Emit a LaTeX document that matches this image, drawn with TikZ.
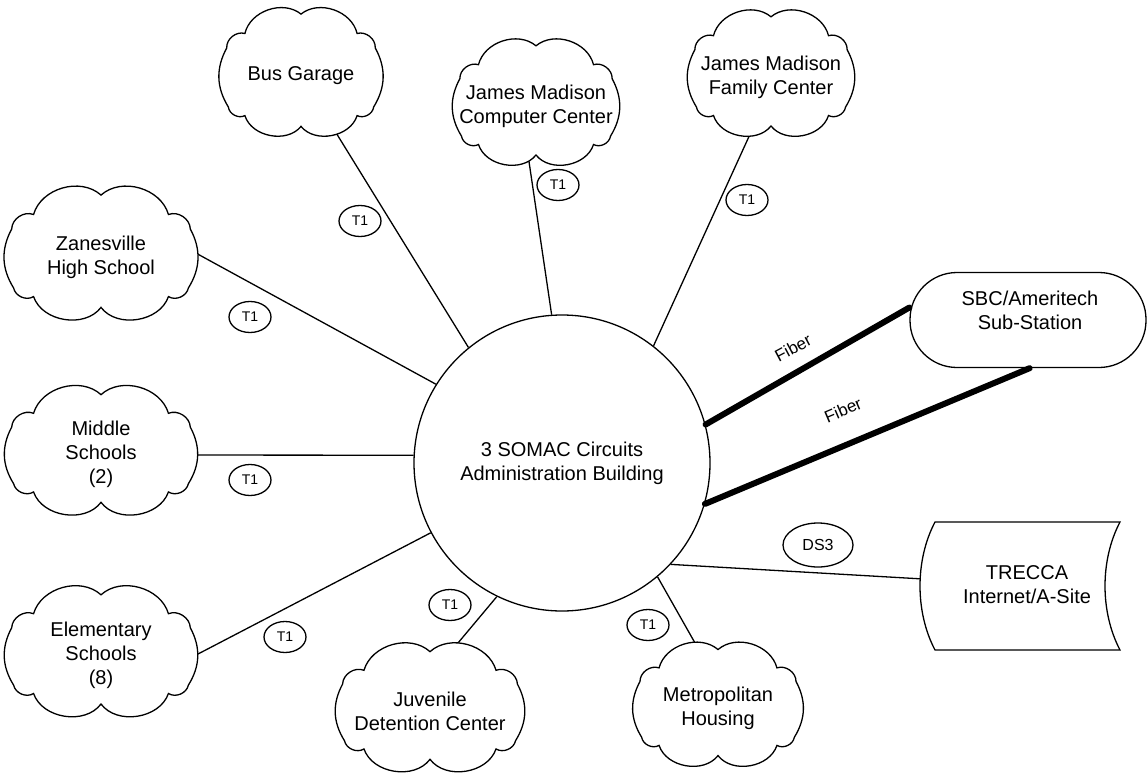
\documentclass[tikz,border=0pt]{standalone}
\usepackage{fontspec}
\setmainfont{Liberation Sans}
\usetikzlibrary{shapes.geometric,backgrounds,calc}
\tikzset{
  cn/.style={ellipse, inner sep=0pt, align=center, font=\fontsize{20}{24}\selectfont},
  tone/.style={ellipse, draw, line width=1.3pt, minimum width=42pt, minimum height=31pt,
    inner sep=0pt, font=\fontsize{14}{16}\selectfont},
  link/.style={line width=1.3pt},
  fiber/.style={line width=6pt, line cap=round},
  lbl/.style={font=\fontsize{17}{19}\selectfont, inner sep=0pt},
  shapeline/.style={line width=1.3pt, fill=white},
}
\newcommand\cloudbg[3]{%
  \begin{scope}[shift={(#1.center)}, x=#2, y=#3]
  \draw[shapeline] (-0.71,0.59) to[bend left=58] (0,0.86) to[bend left=58] (0.71,0.59)
    to[bend left=55] (0.94,0.39) to[bend left=30] (0.92,-0.43) to[bend left=55] (0.71,-0.55)
    to[bend left=62] (0,-0.70) to[bend left=62] (-0.71,-0.55) to[bend left=55] (-0.92,-0.43)
    to[bend left=30] (-0.94,0.39) to[bend left=55] (-0.71,0.59) -- cycle;
  \end{scope}}
\begin{document}
\begin{tikzpicture}[x=1pt,y=-1pt]
\useasboundingbox (0,0) rectangle (1148,781);
% central circle
\node[circle, draw, line width=1.3pt, minimum size=296pt, align=center,
  font=\fontsize{20}{24}\selectfont] (c) at (562,463) {3 SOMAC Circuits\\Administration Building};
% cloud nodes (text)
\node[cn, minimum width=158pt, minimum height=144pt] (bus) at (301,76) {Bus Garage};
\node[cn, minimum width=162pt, minimum height=140pt] (comp) at (536,106) {James Madison\\Computer Center};
\node[cn, minimum width=162pt, minimum height=140pt] (fam) at (771,77) {James Madison\\Family Center};
\node[cn, minimum width=190pt, minimum height=144pt] (zan) at (101,257) {Zanesville\\High School};
\node[cn, minimum width=190pt, minimum height=138pt] (mid) at (101,454) {Middle\\Schools\\(2)};
\node[cn, minimum width=190pt, minimum height=140pt] (elem) at (101,655) {Elementary\\Schools\\(8)};
\node[cn, minimum width=186pt, minimum height=138pt] (juv) at (430,711) {Juvenile\\Detention Center};
\node[cn, minimum width=166pt, minimum height=136pt] (metro) at (718,708) {Metropolitan\\Housing};
% SBC
\node[draw, line width=1.3pt, rounded corners=47pt, minimum width=236pt, minimum height=95pt] (sbc) at (1028,320) {};
\node[align=center, inner sep=0pt, font=\fontsize{20}{24}\selectfont] (sbctext) at (1030,310) {SBC/Ameritech\\Sub-Station};
% TRECCA text node
\node[minimum width=216pt, minimum height=128pt, inner sep=0pt, align=center,
  font=\fontsize{20}{24}\selectfont] (trecca) at (1027,585) {TRECCA\\Internet/A-Site};
% connectors and shapes behind the texts
\begin{pgfonlayer}{background}
\draw[link] (c.129) -- (bus.center);
\draw[link] (c.94) -- ($(comp.center)+(-13,15)$);
\draw[link] (c.52) -- ($(fam.center)+(-4,20)$);
\draw[link] (c.148) -- ($(zan.center)+(49,-29)$);
\draw[link] (c.177) -- ($(mid.center)+(49,1)$);
\draw[link] (c.208) -- ($(elem.center)+(49,24)$);
\draw[link] (c.244) -- ($(juv.center)+(-3,-31)$);
\draw[link] (c.-50) -- ($(metro.center)+(-2,-28)$);
\draw[link] (c.-43) -- (trecca.center);
\cloudbg{bus}{79pt}{72pt}
\cloudbg{comp}{81pt}{70pt}
\cloudbg{fam}{81pt}{70pt}
\cloudbg{zan}{95pt}{72pt}
\cloudbg{mid}{95pt}{69pt}
\cloudbg{elem}{95pt}{70pt}
\cloudbg{juv}{93pt}{69pt}
\cloudbg{metro}{83pt}{68pt}
\draw[shapeline] (935,522) -- (1120,522) .. controls (1100,560) and (1100,612) .. (1120,650)
  -- (935,650) .. controls (915,612) and (915,560) .. (935,522) -- cycle;
\end{pgfonlayer}
\draw[fiber] (c.15) -- (sbc.174);
\draw[fiber] (c.-16) -- (sbc.-88);
% T1 labels
\node[tone] (t1) at (360,221) {T1};
\node[tone] (t2) at (558,185) {T1};
\node[tone] (t3) at (747,200) {T1};
\node[tone] (t4) at (250,317) {T1};
\node[tone] (t5) at (250,480) {T1};
\node[tone] (t6) at (285,637) {T1};
\node[tone] (t7) at (450,605) {T1};
\node[tone] (t8) at (648,625) {T1};
\node[tone, minimum width=70pt, minimum height=44pt, font=\fontsize{16}{18}\selectfont] (ds3) at (818,545) {DS3};
% fiber labels
\node[lbl, rotate=28] (f1) at (793,348) {Fiber};
\node[lbl, rotate=23] (f2) at (843,410) {Fiber};
\end{tikzpicture}
\end{document}
